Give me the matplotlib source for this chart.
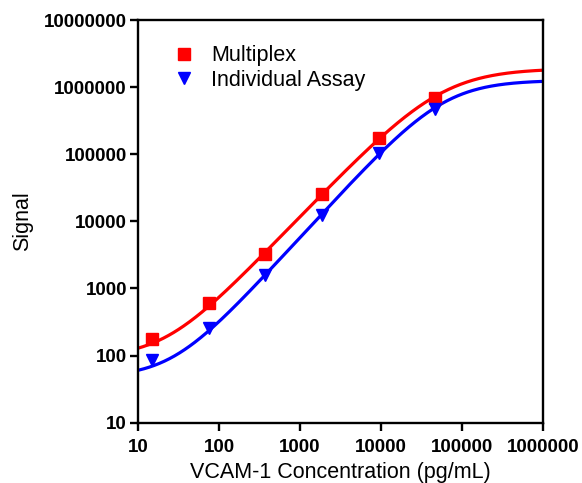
import numpy as np
import matplotlib
matplotlib.use('Agg')
import matplotlib.pyplot as plt
from matplotlib.ticker import FixedLocator, FuncFormatter

# VCAM-1 standard curve
conc = [15, 75, 375, 1875, 9375, 46875]                   # pg/mL
multiplex = [175, 614, 3260, 25500, 172600, 695000]
individual = [86, 255, 1590, 12400, 105000, 472000]

# 5PL parameters (bottom, top, hill slope, log10 ec50, asymmetry) estimated from the drawn curves
multiplex_fit = [93.2, 1892000, 1.05, 4.75, 1.2]
individual_fit = [47.2, 1263000, 1.20, 4.775, 1.1]

x_ticks = [10, 100, 1000, 10000, 100000, 1000000]
y_ticks = [10, 100, 1000, 10000, 100000, 1000000, 10000000]

plt.rcParams['font.family'] = ['Liberation Sans', 'DejaVu Sans']


def curve_5pl(x, a, d, b, lc, g):
    return a + (d - a) / (1 + 10 ** (b * (lc - np.log10(x)))) ** g


xs = np.logspace(1, 6, 400)

fig = plt.figure(figsize=(5.82, 4.83), dpi=100)
ax = fig.add_axes([138 / 582, 60.3 / 483, 405 / 582, 402.7 / 483])

series = [(multiplex, multiplex_fit, '#ff0000', 's', 'Multiplex'),
          (individual, individual_fit, '#0000ff', 'v', 'Individual Assay')]
for yv, p, col, mk, lab in series:
    ax.plot(xs, curve_5pl(xs, *p), color=col, lw=2.3, zorder=2)
    ax.plot(conc, yv, ls='none', marker=mk, color=col, ms=8.5, label=lab, zorder=3)

ax.set_xscale('log')
ax.set_yscale('log')
ax.set_xlim(10, 1e6)
ax.set_ylim(10, 1e7)
ax.xaxis.set_major_locator(FixedLocator(x_ticks))
ax.yaxis.set_major_locator(FixedLocator(y_ticks))
ax.xaxis.set_minor_locator(FixedLocator([]))
ax.yaxis.set_minor_locator(FixedLocator([]))
fmt = FuncFormatter(lambda v, pos: '%d' % round(v))
ax.xaxis.set_major_formatter(fmt)
ax.yaxis.set_major_formatter(fmt)

for s in ax.spines.values():
    s.set_linewidth(1.7)
ax.tick_params(axis='both', direction='out', length=6, width=1.7,
               labelsize=13.5, top=False, right=False)
ax.tick_params(axis='x', pad=6)
ax.tick_params(axis='y', pad=2)
for lbl in ax.get_xticklabels() + ax.get_yticklabels():
    lbl.set_fontweight('bold')

ax.set_xlabel('VCAM-1 Concentration (pg/mL)', fontsize=15.5, labelpad=4)
ax.set_ylabel('Signal', fontsize=15.5, labelpad=8)

ax.legend(loc='upper left', frameon=False, fontsize=15.5, handletextpad=0.65,
          bbox_to_anchor=(0.045, 0.975), labelspacing=0.18, handlelength=1.2,
          borderaxespad=0.3)

fig.savefig('out.png', dpi=100)
